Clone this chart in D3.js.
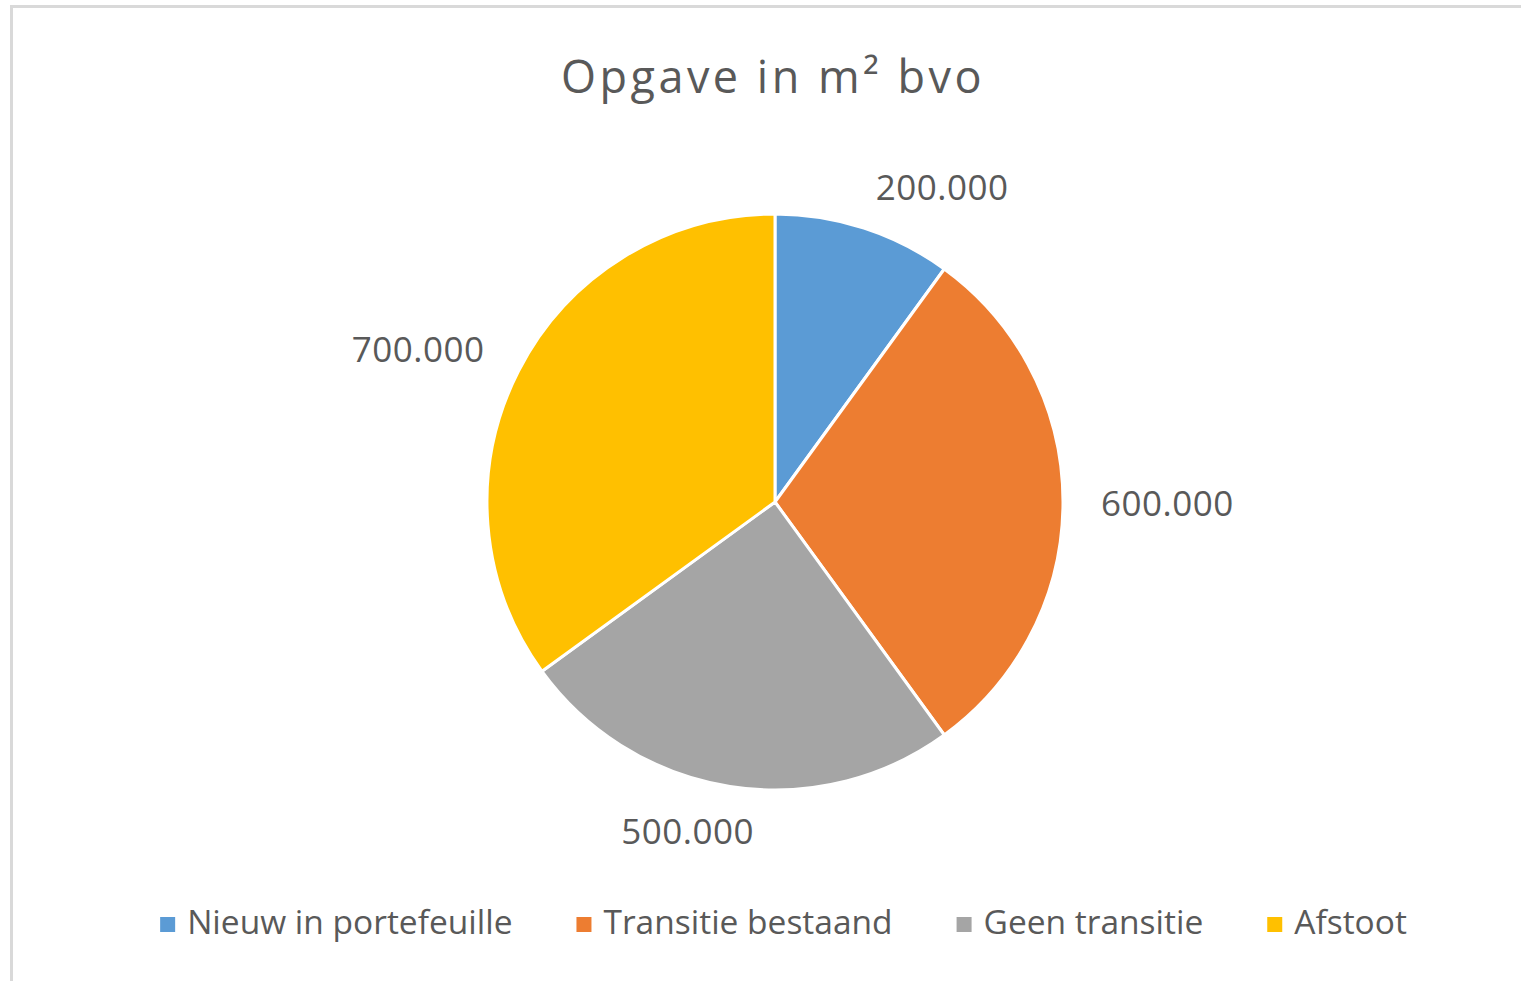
<!DOCTYPE html>
<html>
<head>
<meta charset="utf-8">
<script src="https://cdn.jsdelivr.net/npm/d3@7"></script>
<style>
  body { margin: 0; background: #fff; }
  svg text { font-family: "Open Sans", sans-serif; fill: #595959; }
</style>
</head>
<body>
<div id="chart"></div>
<script>
const categories = ["Nieuw in portefeuille", "Transitie bestaand", "Geen transitie", "Afstoot"];
const values = [200000, 600000, 500000, 700000];
const labels = ["200.000", "600.000", "500.000", "700.000"];
const colors = ["#5B9BD5", "#ED7D31", "#A5A5A5", "#FFC000"];

const W = 1521, H = 981;
const cx = 775, cy = 502, radius = 288;

const svg = d3.select("#chart")
  .append("svg")
  .attr("width", W)
  .attr("height", H);

// chart area frame
svg.append("rect")
  .attr("x", 11.5).attr("y", 6.5)
  .attr("width", W + 20).attr("height", H + 20)
  .attr("fill", "#fff")
  .attr("stroke", "#D9D9D9")
  .attr("stroke-width", 3);

svg.append("text")
  .attr("x", 773).attr("y", 93)
  .attr("text-anchor", "middle")
  .style("font-size", "45px")
  .style("letter-spacing", "3.5px")
  .text("Opgave in m² bvo");

const pie = d3.pie().sort(null).value(d => d.value);
const arcs = pie(categories.map((c, i) => ({name: c, value: values[i], label: labels[i], color: colors[i]})));
const arc = d3.arc().innerRadius(0).outerRadius(radius);

const g = svg.append("g").attr("transform", `translate(${cx},${cy})`);

g.selectAll("path")
  .data(arcs)
  .enter()
  .append("path")
  .attr("d", arc)
  .attr("fill", d => d.data.color)
  .attr("stroke", "#fff")
  .attr("stroke-width", 3)
  .attr("stroke-linejoin", "round");

// data labels, outside end, box pushed away from the slice
const lab = g.selectAll("text.lbl")
  .data(arcs)
  .enter()
  .append("text")
  .attr("class", "lbl")
  .attr("text-anchor", "middle")
  .style("font-size", "35px")
  .style("letter-spacing", "0.5px")
  .text(d => d.data.label);

lab.each(function(d) {
  const w = this.getComputedTextLength();
  const h = 12;
  const a = (d.startAngle + d.endAngle) / 2;
  const sx = Math.sin(a), sy = -Math.cos(a);
  const dist = radius + 38;
  const px = dist * sx, py = dist * sy;
  const clamp = v => Math.max(-1, Math.min(1, v));
  const bx = px + w / 2 * clamp(sx * 3.5);
  const by = py + h / 2 * clamp(sy * 3.5);
  d3.select(this).attr("x", bx).attr("y", by + 14);
});

// legend
const legend = svg.append("g");
const items = legend.selectAll("g")
  .data(arcs)
  .enter()
  .append("g");

items.append("rect")
  .attr("width", 15).attr("height", 15)
  .attr("y", -17)
  .attr("fill", d => d.data.color);

items.append("text")
  .attr("x", 27)
  .style("font-size", "33.5px")
  .text(d => d.data.name);

let xPos = 0;
const gap = 64;
items.each(function() {
  const tw = d3.select(this).select("text").node().getComputedTextLength();
  d3.select(this).attr("transform", `translate(${xPos},0)`);
  xPos += 27 + tw + gap;
});
const total = xPos - gap;
legend.attr("transform", `translate(${783.5 - total / 2},934)`);
</script>
</body>
</html>
